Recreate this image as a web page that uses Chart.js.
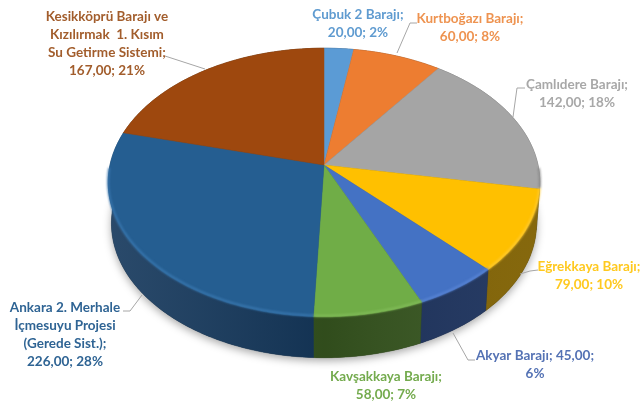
<!DOCTYPE html>
<html lang="tr">
<head>
<meta charset="utf-8">
<title>Barajlar</title>
<script src="https://cdn.jsdelivr.net/npm/chart.js@4"></script>
<style>
  html, body { margin: 0; padding: 0; background: #fff; }
  canvas { display: block; filter: blur(0.4px); }
</style>
</head>
<body>
<canvas id="pie" width="641" height="403"></canvas>
<script>
const categories = ['Çubuk 2 Barajı', 'Kurtboğazı Barajı', 'Çamlıdere Barajı', 'Eğrekkaya Barajı',
  'Akyar Barajı', 'Kavşakkaya Barajı', 'Ankara 2. Merhale İçmesuyu Projesi (Gerede Sist.)',
  'Kesikköprü Barajı ve Kızılırmak 1. Kısım Su Getirme Sistemi'];
const values = [20, 60, 142, 79, 45, 58, 226, 167];

const topColors = ['#5b9bd5', '#ed7d31', '#a5a5a5', '#ffc000', '#4472c4', '#70ad47', '#255e91', '#9e480e'];
const sideColors = ['#2c4d6b', '#773e18', '#565656', '#7f6000', '#1b315c', '#36551f', '#15385c', '#4f2407'];
const rimColors = ['#5b9bd5', '#ed7d31', '#8a8a8a', '#ffcb33', '#5a86d6', '#82bd5a', '#3a78b0', '#9e480e'];

const labelLines = [
  ['Çubuk 2 Barajı;', '20,00; 2%'],
  ['Kurtboğazı Barajı;', '60,00; 8%'],
  ['Çamlıdere Barajı;', '142,00; 18%'],
  ['Eğrekkaya Barajı;', '79,00; 10%'],
  ['Akyar Barajı; 45,00;', '6%'],
  ['Kavşakkaya Barajı;', '58,00; 7%'],
  ['Ankara 2. Merhale', 'İçmesuyu Projesi', '(Gerede Sist.);', '226,00; 28%'],
  ['Kesikköprü Barajı ve', 'Kızılırmak  1. Kısım', 'Su Getirme Sistemi;', '167,00; 21%']
];
const labelColors = ['#5f9bd0', '#ee9350', '#a8a8a8', '#ffc91f', '#5472b4', '#74ab4e', '#2f6494', '#a25d2c'];
const labelAnchors = [[358, 15], [470, 19], [577, 85], [589, 267], [535, 356], [386, 377], [65, 308], [107, 17]];
const leaderLines = [
  null,
  [[397, 53], [410, 23], [417, 23]],
  [[513, 117], [517, 88], [525, 88]],
  [[520, 274], [530, 271], [538, 270]],
  [[453, 333], [468, 360], [475, 360]],
  null,
  [[142, 295], [130, 311], [123, 311]],
  [[165, 56], [205, 69]]
];

// the pie is tilted: circle to ellipse with a little perspective, hub sits above ellipse middle
const PERSPECTIVE = -0.13;
const STRETCH = 1.621;
const DEPTH = 41;
const BOTTOM_SCALE = 0.985;

function project(el, angle, drop) {
  const d = 1 + PERSPECTIVE * Math.sin(angle);
  const x = STRETCH * el.outerRadius * Math.cos(angle) / d;
  const y = el.outerRadius * Math.sin(angle) / d;
  if (drop) return [el.x + x * BOTTOM_SCALE, el.y + y + drop];
  return [el.x + x, el.y + y];
}

function arcAngles(el) {
  const out = [];
  const steps = Math.max(2, Math.ceil((el.endAngle - el.startAngle) / 0.015));
  for (let i = 0; i <= steps; i++) {
    out.push(el.startAngle + (el.endAngle - el.startAngle) * i / steps);
  }
  return out;
}

// top face of each slice goes through the projection, angles still come from the controller
Chart.ArcElement.prototype.draw = function (ctx) {
  const color = this.options.backgroundColor;
  ctx.save();
  ctx.beginPath();
  ctx.moveTo(this.x, this.y);
  arcAngles(this).forEach(a => {
    const p = project(this, a);
    ctx.lineTo(p[0], p[1]);
  });
  ctx.closePath();
  ctx.fillStyle = color;
  ctx.strokeStyle = color;
  ctx.lineWidth = 0.5;
  ctx.fill();
  ctx.stroke();
  ctx.restore();
};

const wallPlugin = {
  id: 'wall',
  beforeDatasetsDraw(chart) {
    const ctx = chart.ctx;
    const arcs = chart.getDatasetMeta(0).data;

    // soft shadow under the whole pie
    ctx.save();
    ctx.shadowColor = 'rgba(0,0,0,0.35)';
    ctx.shadowBlur = 9;
    ctx.shadowOffsetY = 3;
    ctx.fillStyle = '#333';
    ctx.beginPath();
    arcs.forEach(el => arcAngles(el).forEach(a => {
      const p = project(el, a, DEPTH);
      ctx.lineTo(p[0], p[1]);
    }));
    ctx.closePath();
    ctx.fill();
    ctx.restore();

    const shade = ctx.createLinearGradient(108, 0, 540, 0);
    shade.addColorStop(0, 'rgba(255,255,255,0.09)');
    shade.addColorStop(0.5, 'rgba(0,0,0,0.1)');
    shade.addColorStop(1, 'rgba(255,255,255,0.05)');

    arcs.forEach((el, i) => {
      const angles = arcAngles(el);
      ctx.beginPath();
      angles.forEach(a => {
        const p = project(el, a);
        ctx.lineTo(p[0], p[1]);
      });
      angles.slice().reverse().forEach(a => {
        const p = project(el, a, DEPTH);
        ctx.lineTo(p[0], p[1]);
      });
      ctx.closePath();
      ctx.fillStyle = sideColors[i];
      ctx.strokeStyle = sideColors[i];
      ctx.lineWidth = 0.5;
      ctx.fill();
      ctx.stroke();
      ctx.fillStyle = shade;
      ctx.fill();
    });
  },
  afterDatasetsDraw(chart) {
    const ctx = chart.ctx;
    const arcs = chart.getDatasetMeta(0).data;
    // light bevel along the front edge
    arcs.forEach((el, i) => {
      ctx.save();
      ctx.beginPath();
      arcAngles(el).forEach(a => {
        if (Math.sin(a) < 0.02) return;
        const p = project(el, a);
        ctx.lineTo(p[0], p[1] - 1);
      });
      ctx.strokeStyle = rimColors[i];
      ctx.lineWidth = 2;
      ctx.filter = 'blur(0.8px)';
      ctx.stroke();
      ctx.restore();
    });
  }
};

const labelPlugin = {
  id: 'sliceLabels',
  afterDraw(chart) {
    const ctx = chart.ctx;
    ctx.save();
    leaderLines.forEach(line => {
      if (!line) return;
      ctx.beginPath();
      line.forEach(p => ctx.lineTo(p[0], p[1]));
      ctx.strokeStyle = '#a6a6a6';
      ctx.lineWidth = 1;
      ctx.stroke();
    });
    ctx.font = 'bold 13.5px Lato, "Open Sans", sans-serif';
    ctx.textAlign = 'center';
    ctx.textBaseline = 'middle';
    labelLines.forEach((lines, i) => {
      ctx.fillStyle = labelColors[i];
      lines.forEach((text, n) => {
        ctx.fillText(text, labelAnchors[i][0], labelAnchors[i][1] + n * 18);
      });
    });
    ctx.restore();
  }
};

new Chart(document.getElementById('pie'), {
  type: 'pie',
  data: {
    labels: categories,
    datasets: [{ data: values, backgroundColor: topColors, borderWidth: 0 }]
  },
  options: {
    responsive: false,
    animation: false,
    layout: { padding: { left: 192, right: 185, top: 33, bottom: 106 } },
    plugins: { legend: { display: false }, tooltip: { enabled: false } }
  },
  plugins: [wallPlugin, labelPlugin]
});
</script>
</body>
</html>
